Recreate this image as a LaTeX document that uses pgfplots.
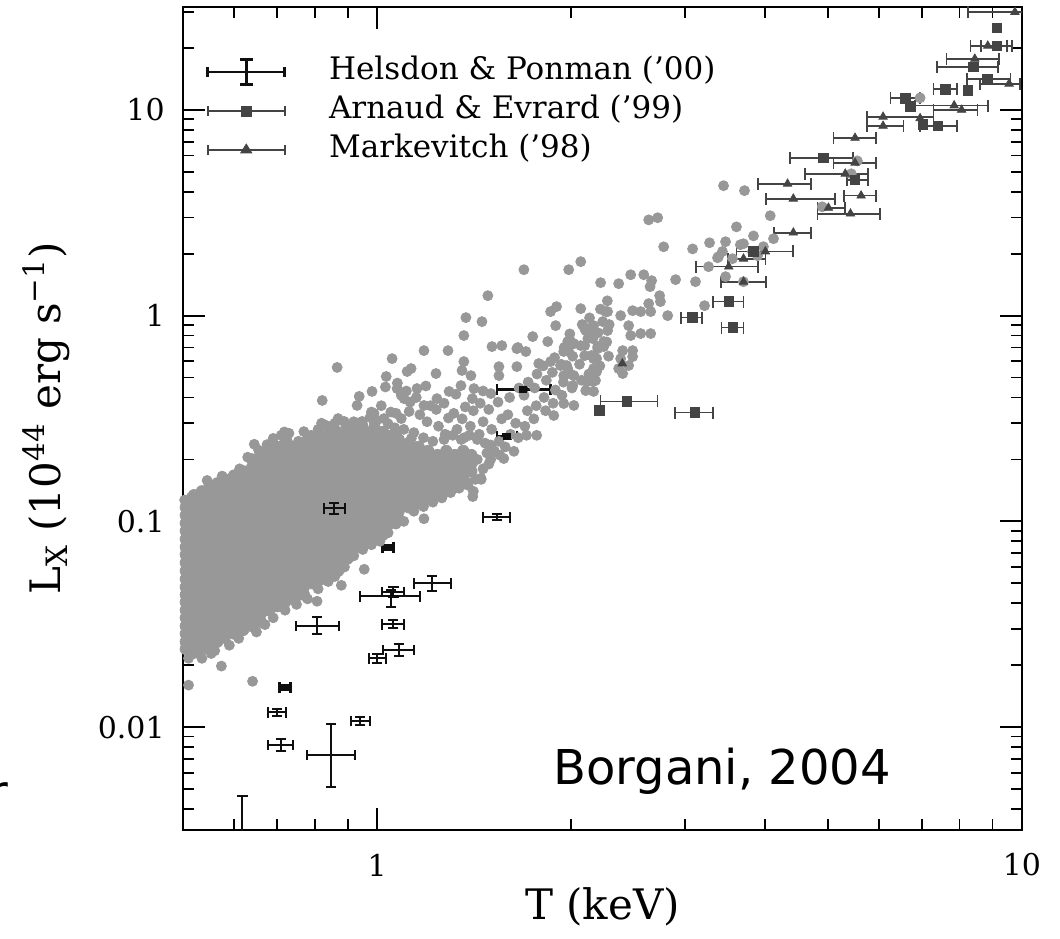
\documentclass[border=0pt]{standalone}
\usepackage{pgfplots}
\pgfplotsset{compat=1.18}
\usepackage{fontspec}
\setmainfont{DejaVu Serif}
\newfontfamily\notefont{DejaVu Sans}

\definecolor{cloud}{RGB}{152,152,152}
\definecolor{obsgray}{RGB}{68,68,68}
\definecolor{obsblack}{RGB}{15,15,15}

% Helsdon & Ponman groups: x y, then minus/plus errors in T and L
\pgfplotstableread{
x      y       xm     xp     ym      yp
0.858  0.1156  0.030  0.034  0.0065  0.0068
}\hpcore
\pgfplotstableread{
x      y       xm     xp     ym      yp
1.534  0.1045  0.074  0.076  0.0035  0.0035
1.216  0.050   0.076  0.084  0.004   0.0045
1.051  0.0432  0.111  0.115  0.0049  0.003
1.06   0.0455  0.042  0.040  0.0026  0.0026
0.807  0.031   0.058  0.066  0.0027  0.0032
1.059  0.0316  0.041  0.041  0.0014  0.0014
1.081  0.0237  0.061  0.059  0.0016  0.0017
1.0    0.0216  0.030  0.033  0.001   0.001
0.70   0.0118  0.022  0.023  0.0005  0.0005
0.71   0.0082  0.032  0.031  0.00056 0.00056
0.941  0.0107  0.030  0.034  0.0005  0.0005
0.849  0.0073  0.070  0.076  0.0022  0.0030
0.618  0.0025  0.020  0.020  0.0005  0.00212
}\hpthin
\pgfplotstableread{
x      y       xm     xp     ym      yp
1.04   0.0748  0.021  0.021  0.0017  0.0017
0.72   0.0156  0.014  0.014  0.0004  0.0004
1.683  0.4375  0.149  0.175  0.010   0.010
1.589  0.259   0.055  0.058  0.006   0.006
}\hpthick
% Arnaud & Evrard clusters
\pgfplotstableread{
x     y      xm    xp
8.83  14.1   0.61  0.77
8.4   16.2   1.02  0.78
7.60  12.6   0.31  0.32
6.59  11.4   0.34  0.35
7.41  8.36   0.47  0.51
9.14  20.5   0.50  0.50
4.92  5.85   0.55  0.55
5.51  4.57   0.16  0.26
3.08  0.978  0.12  0.11
3.51  1.17   0.19  0.19
3.56  0.875  0.14  0.14
2.44  0.383  0.22  0.28
3.11  0.338  0.21  0.21
}\aeerr
% Markevitch clusters
\pgfplotstableread{
x     y      xm    xp
9.75  29.9   1.51  0.80
8.85  20.5   0.53  0.63
8.45  17.7   0.81  0.77
9.55  13.4   0.95  0.39
7.85  10.5   1.02  1.01
8.06  10.0   0.77  0.47
6.09  9.25   0.34  1.20
6.09  8.36   0.34  0.46
5.51  7.31   0.41  0.43
5.51  5.53   0.41  0.43
4.33  4.37   0.43  0.38
4.42  3.70   0.41  0.71
5.32  4.89   0.71  0.45
5.63  3.83   0.33  0.31
5.01  3.34   0.19  0.30
5.42  3.13   0.60  0.61
4.42  2.53   0.30  0.29
4.00  2.05   0.39  0.42
3.70  1.89   0.20  0.30
3.51  1.73   0.39  0.39
3.70  1.46   0.29  0.31
}\mkerr

\begin{document}
\begin{tikzpicture}
\begin{axis}[
  set layers,
  at={(0pt,0pt)}, anchor=south west,
  scale only axis, width=419.5pt, height=411.5pt,
  xmode=log, ymode=log,
  xmin=0.5, xmax=10, ymin=0.0031623, ymax=31.623,
  axis line style={line width=1pt},
  tick align=inside,
  major tick length=11pt, minor tick length=5.5pt,
  every tick/.append style={line width=0.9pt, black},
  xtick={1,10}, xticklabels={1,10},
  minor xtick={0.6,0.7,0.8,0.9,2,3,4,5,6,7,8,9},
  ytick={0.01,0.1,1,10}, yticklabels={0.01,0.1,1,10},
  minor ytick={0.004,0.005,0.006,0.007,0.008,0.009,0.02,0.03,0.04,0.05,0.06,0.07,0.08,0.09,0.2,0.3,0.4,0.5,0.6,0.7,0.8,0.9,2,3,4,5,6,7,8,9,20,30},
  /pgf/number format/assume math mode=true,
  tick label style={font=\fontsize{15}{18}\selectfont},
  xticklabel style={anchor=center, yshift=-17.5pt},
  yticklabel style={anchor=east, inner sep=0pt, xshift=-9pt},
  xlabel={T (keV)},
  ylabel={L\textsubscript{X} (10\textsuperscript{44} erg s\textsuperscript{−1})},
  label style={font=\fontsize{21}{25}\selectfont},
  xlabel style={at={(axis description cs:0.5,-0.093)}, anchor=center},
  ylabel style={at={(axis description cs:-0.163,0.5)}, anchor=center},
  legend style={at={(rel axis cs:0.0275,0.939)}, anchor=north west, draw=none, fill=none,
    inner sep=0pt, column sep=21.5pt, row sep=4.9pt,
    font=\fontsize{15.5}{18}\selectfont,
    nodes={inner sep=0pt, text height=11pt, text depth=3.5pt}},
  legend cell align=left,
]

% simulated groups and clusters: dense core
\addplot[on layer=axis background, only marks, mark=*, mark size=2.85pt, color=cloud, mark options={draw=none, fill=cloud}, forget plot] coordinates {
(0.505,0.024)(0.505,0.026)(0.505,0.0285)(0.505,0.031)(0.505,0.034)(0.505,0.037)(0.505,0.0405)(0.505,0.044)(0.505,0.048)(0.505,0.0525)(0.505,0.0575)(0.505,0.063)(0.505,0.069)(0.505,0.075)(0.505,0.082)(0.505,0.09)(0.505,0.098)(0.505,0.107)(0.505,0.117)
(0.52,0.023)(0.52,0.025)(0.52,0.0272)(0.52,0.0297)(0.52,0.0325)(0.52,0.0355)(0.52,0.0387)(0.52,0.0422)(0.52,0.046)(0.52,0.05)(0.52,0.055)(0.52,0.06)(0.52,0.066)(0.52,0.072)(0.52,0.0785)(0.52,0.086)(0.52,0.094)(0.52,0.1025)(0.52,0.112)(0.52,0.1225)(0.52,0.134)
(0.535,0.024)(0.535,0.026)(0.535,0.0285)(0.535,0.031)(0.535,0.034)(0.535,0.037)(0.535,0.0405)(0.535,0.044)(0.535,0.048)(0.535,0.0525)(0.535,0.0575)(0.535,0.063)(0.535,0.069)(0.535,0.075)(0.535,0.082)(0.535,0.09)(0.535,0.098)(0.535,0.107)(0.535,0.117)(0.535,0.128)(0.535,0.14)
(0.55,0.025)(0.55,0.0272)(0.55,0.0297)(0.55,0.0325)(0.55,0.0355)(0.55,0.0387)(0.55,0.0422)(0.55,0.046)(0.55,0.05)(0.55,0.055)(0.55,0.06)(0.55,0.066)(0.55,0.072)(0.55,0.0785)(0.55,0.086)(0.55,0.094)(0.55,0.1025)(0.55,0.112)(0.55,0.1225)(0.55,0.134)(0.55,0.1465)
(0.565,0.026)(0.565,0.0285)(0.565,0.031)(0.565,0.034)(0.565,0.037)(0.565,0.0405)(0.565,0.044)(0.565,0.048)(0.565,0.0525)(0.565,0.0575)(0.565,0.063)(0.565,0.069)(0.565,0.075)(0.565,0.082)(0.565,0.09)(0.565,0.098)(0.565,0.107)(0.565,0.117)(0.565,0.128)(0.565,0.14)(0.565,0.153)
(0.58,0.0272)(0.58,0.0297)(0.58,0.0325)(0.58,0.0355)(0.58,0.0387)(0.58,0.0422)(0.58,0.046)(0.58,0.05)(0.58,0.055)(0.58,0.06)(0.58,0.066)(0.58,0.072)(0.58,0.0785)(0.58,0.086)(0.58,0.094)(0.58,0.1025)(0.58,0.112)(0.58,0.1225)(0.58,0.134)(0.58,0.1465)(0.58,0.16)
(0.6,0.0285)(0.6,0.031)(0.6,0.034)(0.6,0.037)(0.6,0.0405)(0.6,0.044)(0.6,0.048)(0.6,0.0525)(0.6,0.0575)(0.6,0.063)(0.6,0.069)(0.6,0.075)(0.6,0.082)(0.6,0.09)(0.6,0.098)(0.6,0.107)(0.6,0.117)(0.6,0.128)(0.6,0.14)(0.6,0.153)(0.6,0.167)
(0.62,0.0297)(0.62,0.0325)(0.62,0.0355)(0.62,0.0387)(0.62,0.0422)(0.62,0.046)(0.62,0.05)(0.62,0.055)(0.62,0.06)(0.62,0.066)(0.62,0.072)(0.62,0.0785)(0.62,0.086)(0.62,0.094)(0.62,0.1025)(0.62,0.112)(0.62,0.1225)(0.62,0.134)(0.62,0.1465)(0.62,0.16)(0.62,0.175)
(0.64,0.031)(0.64,0.034)(0.64,0.037)(0.64,0.0405)(0.64,0.044)(0.64,0.048)(0.64,0.0525)(0.64,0.0575)(0.64,0.063)(0.64,0.069)(0.64,0.075)(0.64,0.082)(0.64,0.09)(0.64,0.098)(0.64,0.107)(0.64,0.117)(0.64,0.128)(0.64,0.14)(0.64,0.153)(0.64,0.167)(0.64,0.183)(0.64,0.2)
(0.66,0.0325)(0.66,0.0355)(0.66,0.0387)(0.66,0.0422)(0.66,0.046)(0.66,0.05)(0.66,0.055)(0.66,0.06)(0.66,0.066)(0.66,0.072)(0.66,0.0785)(0.66,0.086)(0.66,0.094)(0.66,0.1025)(0.66,0.112)(0.66,0.1225)(0.66,0.134)(0.66,0.1465)(0.66,0.16)(0.66,0.175)(0.66,0.191)(0.66,0.21)
(0.68,0.037)(0.68,0.0405)(0.68,0.044)(0.68,0.048)(0.68,0.0525)(0.68,0.0575)(0.68,0.063)(0.68,0.069)(0.68,0.075)(0.68,0.082)(0.68,0.09)(0.68,0.098)(0.68,0.107)(0.68,0.117)(0.68,0.128)(0.68,0.14)(0.68,0.153)(0.68,0.167)(0.68,0.183)(0.68,0.2)(0.68,0.22)
(0.70,0.0387)(0.70,0.0422)(0.70,0.046)(0.70,0.05)(0.70,0.055)(0.70,0.06)(0.70,0.066)(0.70,0.072)(0.70,0.0785)(0.70,0.086)(0.70,0.094)(0.70,0.1025)(0.70,0.112)(0.70,0.1225)(0.70,0.134)(0.70,0.1465)(0.70,0.16)(0.70,0.175)(0.70,0.191)(0.70,0.21)(0.70,0.23)
(0.72,0.0405)(0.72,0.044)(0.72,0.048)(0.72,0.0525)(0.72,0.0575)(0.72,0.063)(0.72,0.069)(0.72,0.075)(0.72,0.082)(0.72,0.09)(0.72,0.098)(0.72,0.107)(0.72,0.117)(0.72,0.128)(0.72,0.14)(0.72,0.153)(0.72,0.167)(0.72,0.183)(0.72,0.2)(0.72,0.22)(0.72,0.24)
(0.745,0.0422)(0.745,0.046)(0.745,0.05)(0.745,0.055)(0.745,0.06)(0.745,0.066)(0.745,0.072)(0.745,0.0785)(0.745,0.086)(0.745,0.094)(0.745,0.1025)(0.745,0.112)(0.745,0.1225)(0.745,0.134)(0.745,0.1465)(0.745,0.16)(0.745,0.175)(0.745,0.191)(0.745,0.21)(0.745,0.23)
(0.77,0.044)(0.77,0.048)(0.77,0.0525)(0.77,0.0575)(0.77,0.063)(0.77,0.069)(0.77,0.075)(0.77,0.082)(0.77,0.09)(0.77,0.098)(0.77,0.107)(0.77,0.117)(0.77,0.128)(0.77,0.14)(0.77,0.153)(0.77,0.167)(0.77,0.183)(0.77,0.2)(0.77,0.22)(0.77,0.24)
(0.795,0.05)(0.795,0.055)(0.795,0.06)(0.795,0.066)(0.795,0.072)(0.795,0.0785)(0.795,0.086)(0.795,0.094)(0.795,0.1025)(0.795,0.112)(0.795,0.1225)(0.795,0.134)(0.795,0.1465)(0.795,0.16)(0.795,0.175)(0.795,0.191)(0.795,0.21)(0.795,0.23)(0.795,0.25)
(0.82,0.0525)(0.82,0.0575)(0.82,0.063)(0.82,0.069)(0.82,0.075)(0.82,0.082)(0.82,0.09)(0.82,0.098)(0.82,0.107)(0.82,0.117)(0.82,0.128)(0.82,0.14)(0.82,0.153)(0.82,0.167)(0.82,0.183)(0.82,0.2)(0.82,0.22)(0.82,0.24)(0.82,0.26)
(0.845,0.055)(0.845,0.06)(0.845,0.066)(0.845,0.072)(0.845,0.0785)(0.845,0.086)(0.845,0.094)(0.845,0.1025)(0.845,0.112)(0.845,0.1225)(0.845,0.134)(0.845,0.1465)(0.845,0.16)(0.845,0.175)(0.845,0.191)(0.845,0.21)(0.845,0.23)(0.845,0.25)(0.845,0.272)
(0.87,0.0575)(0.87,0.063)(0.87,0.069)(0.87,0.075)(0.87,0.082)(0.87,0.09)(0.87,0.098)(0.87,0.107)(0.87,0.117)(0.87,0.128)(0.87,0.14)(0.87,0.153)(0.87,0.167)(0.87,0.183)(0.87,0.2)(0.87,0.22)(0.87,0.24)(0.87,0.26)
(0.9,0.066)(0.9,0.072)(0.9,0.0785)(0.9,0.086)(0.9,0.094)(0.9,0.1025)(0.9,0.112)(0.9,0.1225)(0.9,0.134)(0.9,0.1465)(0.9,0.16)(0.9,0.175)(0.9,0.191)(0.9,0.21)(0.9,0.23)(0.9,0.25)(0.9,0.272)
(0.93,0.075)(0.93,0.082)(0.93,0.09)(0.93,0.098)(0.93,0.107)(0.93,0.117)(0.93,0.128)(0.93,0.14)(0.93,0.153)(0.93,0.167)(0.93,0.183)(0.93,0.2)(0.93,0.22)(0.93,0.24)(0.93,0.26)(0.93,0.285)
(0.96,0.0785)(0.96,0.086)(0.96,0.094)(0.96,0.1025)(0.96,0.112)(0.96,0.1225)(0.96,0.134)(0.96,0.1465)(0.96,0.16)(0.96,0.175)(0.96,0.191)(0.96,0.21)(0.96,0.23)(0.96,0.25)(0.96,0.272)
(0.99,0.082)(0.99,0.09)(0.99,0.098)(0.99,0.107)(0.99,0.117)(0.99,0.128)(0.99,0.14)(0.99,0.153)(0.99,0.167)(0.99,0.183)(0.99,0.2)(0.99,0.22)(0.99,0.24)(0.99,0.26)(0.99,0.285)
(1.02,0.086)(1.02,0.094)(1.02,0.1025)(1.02,0.112)(1.02,0.1225)(1.02,0.134)(1.02,0.1465)(1.02,0.16)(1.02,0.175)(1.02,0.191)(1.02,0.21)(1.02,0.23)(1.02,0.25)(1.02,0.272)
(1.05,0.098)(1.05,0.107)(1.05,0.117)(1.05,0.128)(1.05,0.14)(1.05,0.153)(1.05,0.167)(1.05,0.183)(1.05,0.2)(1.05,0.22)(1.05,0.24)(1.05,0.26)
(1.08,0.1025)(1.08,0.112)(1.08,0.1225)(1.08,0.134)(1.08,0.1465)(1.08,0.16)(1.08,0.175)(1.08,0.191)(1.08,0.21)(1.08,0.23)(1.08,0.25)
(1.12,0.117)(1.12,0.128)(1.12,0.14)(1.12,0.153)(1.12,0.167)(1.12,0.183)(1.12,0.2)(1.12,0.22)(1.12,0.24)
(1.16,0.1225)(1.16,0.134)(1.16,0.1465)(1.16,0.16)(1.16,0.175)(1.16,0.191)(1.16,0.21)(1.16,0.23)
(1.2,0.128)(1.2,0.14)(1.2,0.153)(1.2,0.167)(1.2,0.183)(1.2,0.2)(1.2,0.22)
(1.24,0.134)(1.24,0.1465)(1.24,0.16)(1.24,0.175)(1.24,0.191)(1.24,0.21)
(1.28,0.14)(1.28,0.153)(1.28,0.167)(1.28,0.183)(1.28,0.2)(1.28,0.22)
(1.32,0.1465)(1.32,0.16)(1.32,0.175)(1.32,0.191)(1.32,0.21)
(1.36,0.153)(1.36,0.167)(1.36,0.183)(1.36,0.2)(1.36,0.22)
(1.4,0.175)(1.4,0.191)(1.4,0.21)
};

% simulated groups and clusters: outskirts
\addplot[on layer=axis background, only marks, mark=*, mark size=2.5pt, color=cloud, mark options={draw=none, fill=cloud}, forget plot] coordinates {
(0.503,0.127)(0.515,0.131)(0.51,0.0216)(0.51,0.016)(0.535,0.0216)(0.553,0.0228)(0.5735,0.0198)(0.641,0.0167)(0.807,0.0409)(0.88,0.0489)(0.955,0.0585)
(0.56,0.0235)(0.59,0.025)(0.61,0.027)(0.65,0.029)(0.67,0.0315)(0.69,0.034)(0.72,0.037)(0.75,0.0395)(0.78,0.042)(0.81,0.047)(0.84,0.051)(0.86,0.054)(0.89,0.06)(0.92,0.068)(0.95,0.073)(0.98,0.077)(1.01,0.08)(1.04,0.088)(1.07,0.097)(1.1,0.1)(1.14,0.112)(1.18,0.118)(1.22,0.124)(1.26,0.13)(1.3,0.138)(1.34,0.145)(1.38,0.155)(1.42,0.16)
(0.545,0.158)(0.575,0.166)(0.612,0.18)(0.63,0.205)(0.655,0.222)(0.675,0.236)(0.73,0.268)(0.755,0.245)(0.79,0.262)(0.81,0.28)(0.835,0.292)(0.86,0.3)(0.895,0.29)(0.92,0.305)(0.95,0.295)(0.975,0.32)(1.0,0.31)(1.04,0.298)(1.065,0.285)(1.1,0.28)(1.14,0.27)(1.18,0.255)(1.22,0.245)(1.27,0.25)(1.31,0.262)(1.35,0.25)(1.39,0.262)(1.43,0.25)(1.47,0.24)
(0.645,0.237)(0.69,0.253)(0.693,0.234)(0.71,0.262)(0.718,0.272)(0.726,0.245)(0.763,0.234)(0.77,0.273)(0.78,0.253)(0.808,0.234)(0.82,0.30)(0.822,0.387)(0.867,0.275)(0.867,0.56)(0.87,0.316)(0.889,0.306)(0.911,0.283)(0.931,0.366)(0.938,0.405)(0.945,0.235)(0.948,0.306)(0.98,0.34)(0.982,0.428)(0.989,0.335)(0.99,0.30)
(1.025,0.316)(1.025,0.272)(1.033,0.506)(1.05,0.34)(1.055,0.618)(1.074,0.442)(1.075,0.272)(1.09,0.316)(1.101,0.395)(1.113,0.535)(1.121,0.342)(1.129,0.553)(1.13,0.253)(1.153,0.442)(1.182,0.676)(1.182,0.366)(1.234,0.523)(1.238,0.395)(1.288,0.676)(1.293,0.428)
(1.349,0.457)(1.354,0.541)(1.363,0.598)(1.363,0.80)(1.373,0.978)(1.398,0.511)(1.413,0.442)(1.454,0.935)(1.485,1.25)(1.501,0.418)(1.507,0.707)(1.545,0.565)(1.545,0.511)(1.561,0.715)(1.572,0.202)(1.63,0.219)(1.647,0.691)(1.647,0.565)(1.653,0.70)(1.689,1.672)(1.701,0.669)(1.705,0.262)(1.743,0.791)(1.768,0.262)(1.781,0.585)
(1.839,0.748)(1.858,0.598)(1.858,1.046)(1.879,0.327)(1.892,0.894)(1.898,1.106)(1.925,0.572)(1.947,0.669)(1.947,0.511)(1.947,0.374)(1.968,0.572)(1.975,0.553)(1.975,0.748)(1.982,0.669)(1.982,1.672)(1.997,0.748)(2.011,0.457)(2.019,0.366)(2.019,0.511)(2.019,0.731)
(2.069,1.081)(2.069,1.83)(2.069,0.715)(2.098,0.865)(2.098,0.715)(2.098,0.639)(2.106,0.432)(2.106,0.846)(2.114,0.478)(2.122,0.865)(2.122,0.773)(2.16,0.773)(2.16,0.478)(2.166,0.80)(2.166,0.428)(2.166,0.618)(2.166,0.553)(2.166,0.894)(2.181,0.484)(2.19,0.535)(2.19,0.618)(2.198,0.691)(2.198,0.707)
(2.221,1.446)(2.238,0.935)(2.246,0.748)(2.246,0.707)(2.262,1.046)(2.277,1.046)(2.277,0.846)(2.369,0.553)(2.369,1.43)(2.386,1.0)(2.386,0.618)(2.403,0.676)(2.403,0.523)(2.455,0.894)(2.455,0.572)(2.473,0.80)(2.473,1.58)(2.49,1.057)(2.49,0.676)(2.49,0.632)
(2.563,1.046)(2.563,0.818)(2.591,1.58)(2.637,2.92)(2.637,1.144)(2.65,1.383)(2.656,1.046)(2.656,0.818)(2.665,1.479)(2.723,2.99)(2.742,1.25)(2.75,1.17)(2.782,2.16)(2.822,1.0)(2.903,1.496)(3.085,2.11)(3.117,1.462)(3.219,1.118)(3.266,1.729)(3.277,2.26)
(3.372,1.91)(3.384,1.934)(3.432,2.05)(3.445,4.28)(3.47,2.287)(3.47,1.547)(3.557,1.891)(3.608,2.70)(3.659,2.211)(3.699,1.462)(3.699,2.236)(3.713,4.05)(3.82,2.045)(3.834,2.44)(3.89,1.956)(3.973,2.163)(4.07,3.06)(4.118,2.365)(4.90,3.38)(5.436,4.89)(5.555,5.65)(6.95,11.44)
(1.015,0.365)(1.03,0.45)(1.07,0.335)(1.09,0.41)(1.075,0.47)(1.125,0.38)(1.11,0.43)(1.165,0.33)(1.15,0.40)(1.195,0.305)(1.21,0.365)(1.19,0.455)(1.245,0.29)(1.235,0.35)(1.275,0.265)(1.29,0.318)(1.27,0.375)(1.33,0.28)(1.315,0.335)(1.325,0.415)(1.365,0.255)(1.355,0.315)(1.37,0.36)
(1.395,0.29)(1.41,0.345)(1.405,0.395)(1.44,0.265)(1.46,0.305)(1.445,0.375)(1.46,0.43)(1.505,0.28)(1.49,0.35)(1.545,0.245)(1.56,0.315)(1.54,0.38)(1.61,0.265)(1.595,0.33)(1.605,0.40)(1.655,0.255)(1.64,0.30)(1.66,0.445)(1.695,0.29)(1.71,0.345)(1.69,0.41)(1.715,0.475)
(1.75,0.315)(1.765,0.365)(1.755,0.445)(1.77,0.52)(1.825,0.345)(1.815,0.40)(1.83,0.485)(1.81,0.57)(1.875,0.375)(1.89,0.435)(1.87,0.53)(1.885,0.625)(1.935,0.41)(1.945,0.475)(1.93,0.58)(1.95,0.70)(2.005,0.445)(1.995,0.52)(2.01,0.635)(1.99,0.815)
(2.075,0.485)(2.06,0.58)(2.08,0.905)(2.13,0.52)(2.15,0.64)(2.135,0.975)(2.215,0.57)(2.2,0.825)(2.22,1.075)(2.285,0.635)(2.27,0.745)(2.29,0.905)(2.275,1.18)
(1.49,0.19)(1.52,0.22)(1.58,0.23)(1.5,0.2)(1.55,0.21)(1.45,0.16)(1.41,0.14)(1.383,0.15)(1.407,0.132)(1.449,0.162)(1.182,0.103)(1.256,0.132)(1.46,0.18)(1.43,0.2)(1.48,0.215)(1.5,0.235)
};

% Arnaud & Evrard
\addplot[only marks, mark=square*, mark size=2.4pt, color=obsgray, forget plot,
  error bars/.cd, x dir=both, x explicit,
  error bar style={line width=0.85pt, obsgray},
  error mark options={rotate=90, mark size=3pt, line width=0.85pt, obsgray}]
  table[x=x, y=y, x error minus=xm, x error plus=xp] {\aeerr};
\addplot[only marks, mark=square*, mark size=2.4pt, color=obsgray, forget plot] coordinates {
(9.14,25.0)(8.24,12.4)(6.7,10.4)(7.02,8.5)(2.21,0.346)(3.83,2.05)
};

% Markevitch
\addplot[only marks, mark=triangle*, mark size=2.4pt, color=obsgray, forget plot,
  error bars/.cd, x dir=both, x explicit,
  error bar style={line width=0.85pt, obsgray},
  error mark options={rotate=90, mark size=3pt, line width=0.85pt, obsgray}]
  table[x=x, y=y, x error minus=xm, x error plus=xp] {\mkerr};
\addplot[only marks, mark=triangle*, mark size=2.4pt, color=obsgray, forget plot] coordinates {
(6.95,9.1)(2.40,0.585)
};

% Helsdon & Ponman
\addplot[only marks, mark=*, mark size=0.01pt, mark options={draw=none, fill=none}, color=obsblack, forget plot,
  error bars/.cd, x dir=both, x explicit, y dir=both, y explicit,
  error bar style={line width=1pt, draw=obsblack},
  error mark options={rotate=90, mark size=2.6pt, line width=1pt, draw=obsblack}]
  table[x=x, y=y, x error minus=xm, x error plus=xp, y error minus=ym, y error plus=yp] {\hpthin};
\addplot[on layer=axis foreground, only marks, mark=*, mark size=0.01pt, mark options={draw=none, fill=none}, color=obsblack, forget plot,
  error bars/.cd, x dir=both, x explicit, y dir=both, y explicit,
  error bar style={line width=1pt, draw=obsblack},
  error mark options={rotate=90, mark size=2.6pt, line width=1pt, draw=obsblack}]
  table[x=x, y=y, x error minus=xm, x error plus=xp, y error minus=ym, y error plus=yp] {\hpcore};
\addplot[only marks, mark=square*, mark size=1.6pt, color=obsblack, forget plot,
  error bars/.cd, x dir=both, x explicit, y dir=both, y explicit,
  error bar style={line width=1.3pt, obsblack},
  error mark options={rotate=90, mark size=2.6pt, line width=1.3pt, obsblack}]
  table[x=x, y=y, x error minus=xm, x error plus=xp, y error minus=ym, y error plus=yp] {\hpthick};

% legend keys
\addlegendimage{legend image code/.code={
  \draw[line width=1.3pt, obsblack] (0pt,0pt) -- (38.5pt,0pt);
  \draw[line width=1.3pt, obsblack] (0pt,-2.5pt) -- (0pt,2.5pt);
  \draw[line width=1.3pt, obsblack] (38.5pt,-2.5pt) -- (38.5pt,2.5pt);
  \draw[line width=1.3pt, obsblack] (19.25pt,-6.25pt) -- (19.25pt,6.25pt);
  \draw[line width=1.6pt, obsblack] (16pt,6.25pt) -- (22.5pt,6.25pt);
  \draw[line width=1.6pt, obsblack] (16pt,-6.25pt) -- (22.5pt,-6.25pt);
}}
\addlegendentry{Helsdon \& Ponman ('00)}
\addlegendimage{legend image code/.code={
  \draw[line width=1.1pt, obsgray] (0pt,0pt) -- (38.5pt,0pt);
  \draw[line width=1.1pt, obsgray] (0pt,-2.5pt) -- (0pt,2.5pt);
  \draw[line width=1.1pt, obsgray] (38.5pt,-2.5pt) -- (38.5pt,2.5pt);
  \fill[obsgray] (16.75pt,-2.5pt) rectangle (21.75pt,2.5pt);
}}
\addlegendentry{Arnaud \& Evrard ('99)}
\addlegendimage{legend image code/.code={
  \draw[line width=1.1pt, obsgray] (0pt,0pt) -- (38.5pt,0pt);
  \draw[line width=1.1pt, obsgray] (0pt,-2.5pt) -- (0pt,2.5pt);
  \draw[line width=1.1pt, obsgray] (38.5pt,-2.5pt) -- (38.5pt,2.5pt);
  \fill[obsgray] (16.5pt,-1.6pt) -- (22pt,-1.6pt) -- (19.25pt,2.8pt) -- cycle;
}}
\addlegendentry{Markevitch ('98)}

\node[anchor=base west, inner sep=0pt, font=\notefont\fontsize{24}{28}\selectfont]
  at (rel axis cs:0.441,0.0547) {Borgani, 2004};
\end{axis}
% tail of a word from a neighbouring line, cut by the page edge
\node[anchor=base east, inner sep=0pt, font=\notefont\fontsize{24}{28}\selectfont] at (-87pt,10.5pt) {r};
\pgfresetboundingbox
\path[use as bounding box] (-91.5pt,-54pt) rectangle (438.5pt,415pt);
\end{tikzpicture}
\end{document}
